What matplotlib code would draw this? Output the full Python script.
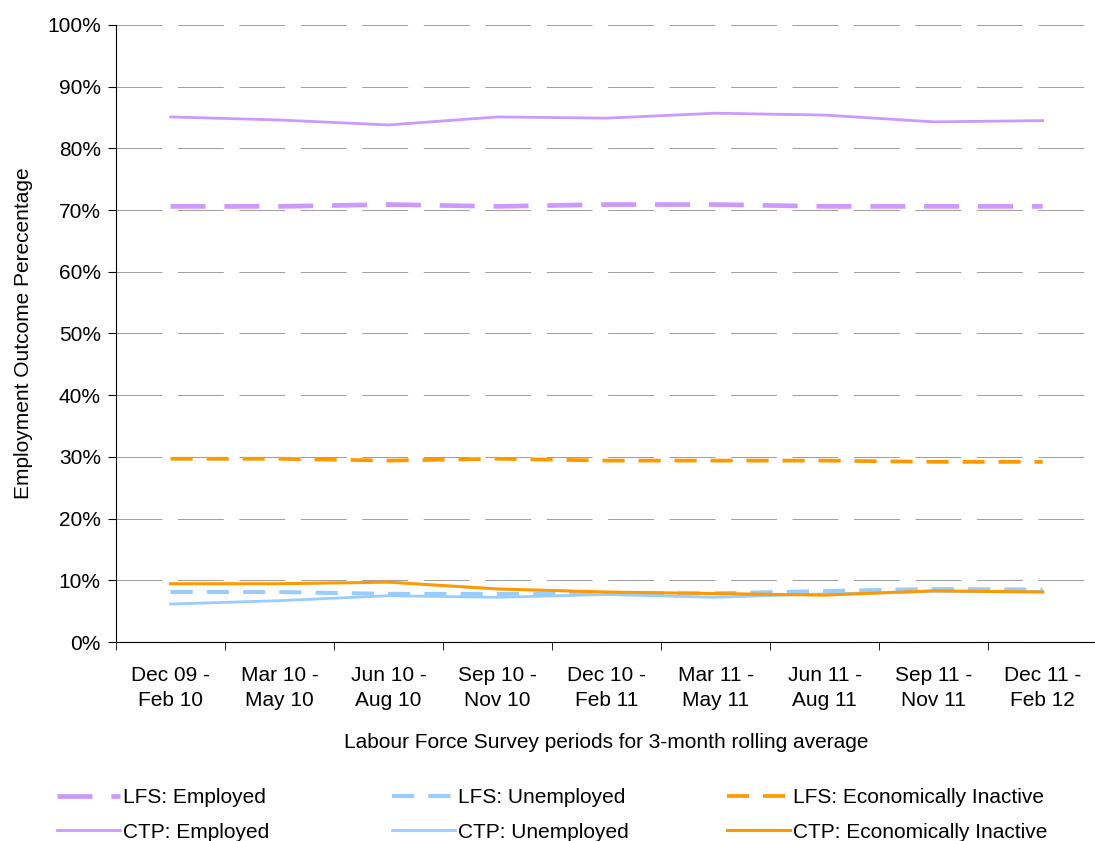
import matplotlib.pyplot as plt

plt.rcParams['font.family'] = ['Liberation Sans', 'DejaVu Sans']

periods = ['Dec 09 -\nFeb 10', 'Mar 10 -\nMay 10', 'Jun 10 -\nAug 10', 'Sep 10 -\nNov 10',
           'Dec 10 -\nFeb 11', 'Mar 11 -\nMay 11', 'Jun 11 -\nAug 11', 'Sep 11 -\nNov 11',
           'Dec 11 -\nFeb 12']

lfs_employed = [70.6, 70.6, 70.9, 70.6, 70.9, 70.9, 70.6, 70.6, 70.6]
lfs_unemployed = [8.1, 8.1, 7.8, 7.8, 7.9, 7.9, 8.25, 8.6, 8.5]
lfs_inactive = [29.7, 29.7, 29.4, 29.7, 29.4, 29.4, 29.4, 29.2, 29.2]
ctp_employed = [85.1, 84.6, 83.8, 85.1, 84.9, 85.7, 85.4, 84.3, 84.5]
ctp_unemployed = [6.15, 6.7, 7.5, 7.25, 7.7, 7.25, 7.8, 8.2, 8.2]
ctp_inactive = [9.45, 9.45, 9.7, 8.6, 8.1, 7.85, 7.6, 8.3, 8.1]

purple = '#CC99FF'
blue = '#99CCFF'
orange = '#FF9900'

fig = plt.figure(figsize=(10.95, 8.41), dpi=100)
ax = fig.add_axes([0.106, 0.2366, 0.896, 0.7337])

x = range(len(periods))

h1, = ax.plot(x, lfs_employed, color=purple, lw=3.4, linestyle=(0, (7.4, 4.0)), label='LFS: Employed')
h2, = ax.plot(x, ctp_employed, color=purple, lw=2.0, label='CTP: Employed')
h3, = ax.plot(x, lfs_unemployed, color=blue, lw=2.9, linestyle=(0, (5.5, 3.5)), label='LFS: Unemployed')
h4, = ax.plot(x, ctp_unemployed, color=blue, lw=2.0, label='CTP: Unemployed')
h5, = ax.plot(x, lfs_inactive, color=orange, lw=2.7, linestyle=(0, (5.9, 3.7)), label='LFS: Economically Inactive')
h6, = ax.plot(x, ctp_inactive, color=orange, lw=2.2, label='CTP: Economically Inactive')

ax.set_xlim(-0.5, len(periods) - 0.5)
ax.set_ylim(0, 100)
ax.set_yticks(range(0, 101, 10))
ax.set_yticklabels([f'{v}%' for v in range(0, 101, 10)], fontsize=15)
ax.yaxis.grid(True, color='#A0A0A0', lw=0.75, linestyle=(0, (44, 15)))
ax.set_axisbelow(True)

ax.set_xticks(list(x))
ax.set_xticklabels(periods, fontsize=15, linespacing=1.45)
ax.set_xticks([i - 0.5 for i in range(len(periods) + 1)], minor=True)
ax.tick_params(axis='x', which='major', length=0, pad=17)
ax.tick_params(axis='x', which='minor', length=6, direction='out')
ax.tick_params(axis='y', length=6, direction='out', pad=5)

for s in ['top', 'right']:
    ax.spines[s].set_visible(False)

ax.set_xlabel('Labour Force Survey periods for 3-month rolling average', fontsize=15, labelpad=16)
ax.set_ylabel('Employment Outcome Perecentage', fontsize=15, labelpad=10)

# one legend per column so the columns sit at fixed positions
cols = [(57, [h1, h2]), (392, [h3, h4]), (727, [h5, h6])]
for left_px, hs in cols:
    leg = fig.legend(handles=hs, loc='upper left', bbox_to_anchor=(left_px / 1095, 1 - 788 / 841),
                     frameon=False, fontsize=15, handlelength=3.0, handletextpad=0.15,
                     borderpad=0, borderaxespad=0, labelspacing=0.75)

fig.savefig('out.png', dpi=100)
